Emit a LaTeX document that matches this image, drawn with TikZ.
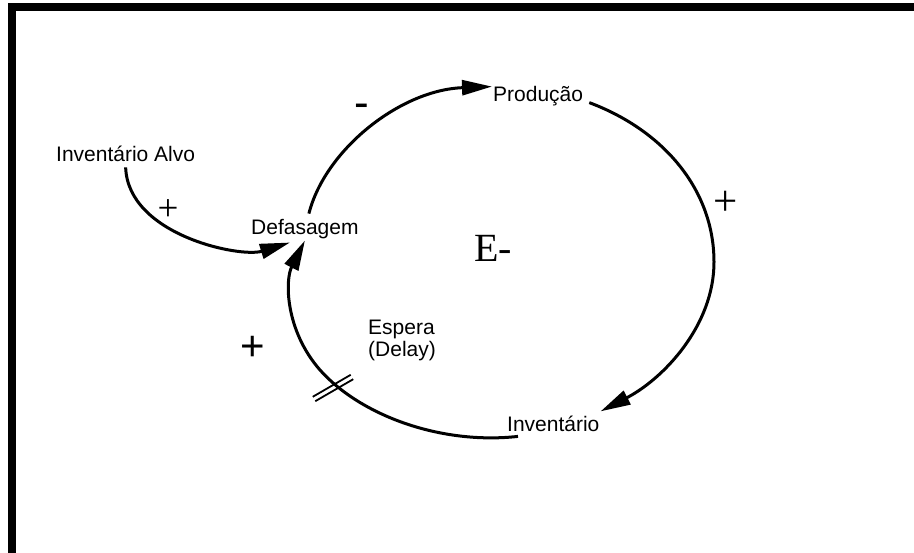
\documentclass[tikz,border=0pt]{standalone}
\usepackage{fontspec}
\setmainfont{Liberation Serif}
\setsansfont{Liberation Sans}
\usetikzlibrary{arrows.meta}

\begin{document}
\begin{tikzpicture}[x=1pt,y=-1pt,
  lbl/.style={font=\sffamily\fontsize{21}{22}\selectfont, inner sep=1pt},
  link/.style={line width=3pt, -{Triangle[length=30pt,width=15pt]}},
  thinsign/.style={inner sep=0pt, font=\rmfamily\fontsize{#1}{#1}\selectfont},
  thicksign/.style={inner sep=0pt, font=\sffamily\fontsize{#1}{#1}\selectfont},
  delaymark/.style={line width=1.8pt},
]
\useasboundingbox (0,0) rectangle (914,553);

% frame
\draw[line width=8pt] (12,7) rectangle (950,557);

% variables
\node[lbl, anchor=base west] (alvo) at (55,162) {Inventário Alvo};
\node[lbl, anchor=base west] (def)  at (250,235) {Defasagem};
\node[lbl, anchor=base west] (prod) at (492,102) {Produção};
\node[lbl, anchor=base west] (inv)  at (506,432) {Inventário};
\node[lbl, anchor=north west, align=left, inner sep=0pt] (delay) at (368,320)
  {Espera\\(Delay)};
\node[anchor=base west, inner sep=0pt, font=\rmfamily\fontsize{40}{40}\selectfont] (loop) at (474,262) {E-};

% causal links
\draw[link] ([yshift=-4pt]alvo.south)
  .. controls (128,235) and (240,258) .. ([xshift=-15pt,yshift=-2pt]def.south);
\draw[link] ([xshift=4pt,yshift=5pt]def.north)
  .. controls (325,150) and (400,90) .. ([yshift=-1pt]prod.north west);
\draw[link] ([xshift=5pt,yshift=-6pt]prod.east)
  .. controls (665,131) and (714,191) .. (714,262)
  .. controls (714,326) and (663,379) .. ([yshift=4pt]inv.north east);
\draw[link] ([xshift=12pt,yshift=-3pt]inv.south west)
  .. controls (440,445) and (360,415) .. (320,370)
  .. controls (285,330) and (285,280) .. (def.south);

% delay mark on the inventory link
\coordinate (dm) at (333,388);
\draw[delaymark] ([shift={(-17.75,13.2)}]dm) -- ([shift={(20.25,-8.8)}]dm);
\draw[delaymark] ([shift={(-20.25,8.8)}]dm) -- ([shift={(17.75,-13.2)}]dm);

% link polarities
\node[thinsign=37] (s1) at (168,210) {+};
\node[thicksign=44, anchor=base] (s2) at (362,118) {-};
\node[thinsign=43] (s3) at (726,203) {+};
\node[thicksign=42] (s4) at (253,348) {+};
\end{tikzpicture}
\end{document}
